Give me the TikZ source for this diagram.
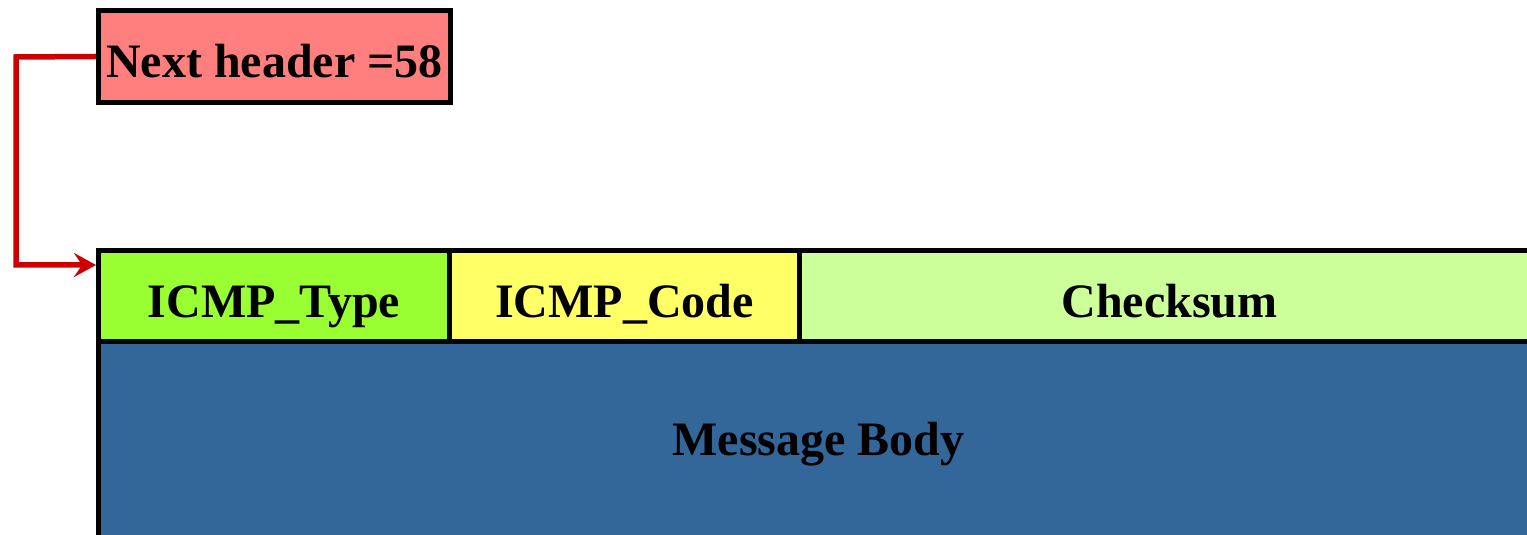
\documentclass[tikz,border=0pt]{standalone}
\usepackage{fontspec}
\setmainfont{Liberation Serif}
\usetikzlibrary{arrows.meta}
\definecolor{hdr}{HTML}{FF7F7F}
\definecolor{typec}{HTML}{99FF33}
\definecolor{codec}{HTML}{FFFF66}
\definecolor{chkc}{HTML}{CCFF99}
\definecolor{bodyc}{HTML}{336699}
\definecolor{arr}{HTML}{CC0000}
\begin{document}
\begin{tikzpicture}[x=1pt,y=1pt,
  field/.style={draw=black, line width=5pt, rectangle, inner sep=0pt, anchor=north west,
     font=\fontsize{48}{54}\selectfont\bfseries, text=black},
  rowtext/.style={text height=44pt, text depth=1pt},
  link/.style={draw=arr, line width=5.5pt, -{Stealth[length=22pt,width=24pt,inset=8pt]}}
]
\useasboundingbox (0,0) rectangle (1527,535);
\clip (0,0) rectangle (1527,535);
\node[field, rowtext, fill=hdr, minimum width=352pt, minimum height=92pt] (hdr) at (96,527) {Next header =58};
\node[field, fill=bodyc, minimum width=1440pt, minimum height=206pt] (body) at (96,196) {Message Body};
\node[field, rowtext, fill=typec, minimum width=351pt, minimum height=91pt] (type) at (96,287) {ICMP\_Type};
\node[field, rowtext, fill=codec, minimum width=350pt, minimum height=91pt] (code) at (447,287) {ICMP\_Code};
\node[field, rowtext, fill=chkc, minimum width=740pt, minimum height=91pt] (chk) at (797,287) {Checksum};
\coordinate (c1) at (16,478);
\coordinate (c2) at (16,270);
\draw[link, line join=miter] (hdr.west) -- (c1) -- (c2) -- (c2 -| type.west);
\end{tikzpicture}
\end{document}
